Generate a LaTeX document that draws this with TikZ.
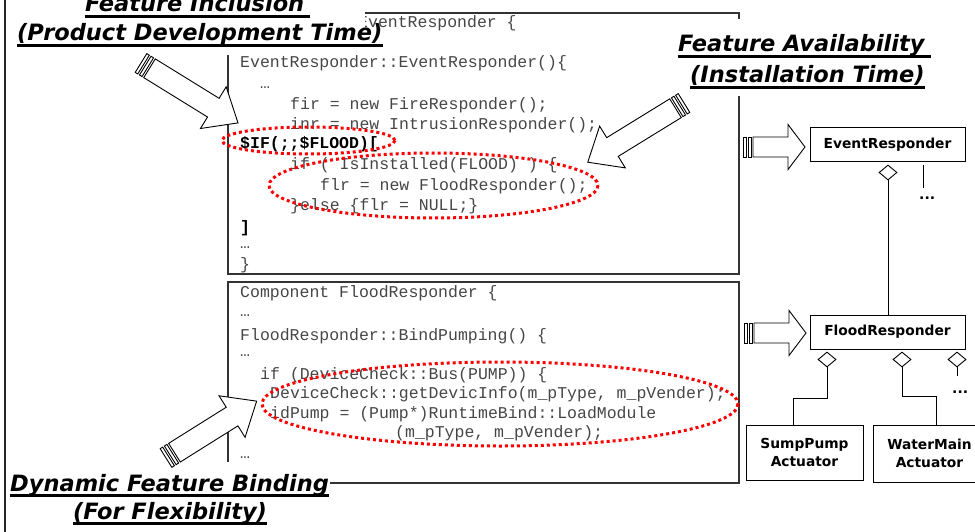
\documentclass[tikz,border=0pt]{standalone}
\usepackage{fontspec}
\usepackage{tikz}
\usetikzlibrary{shapes.geometric,calc}
\newfontfamily\codefont{Liberation Mono}
\newfontfamily\sansfont{DejaVu Sans}
\usepackage{xcolor}
\definecolor{codegray}{RGB}{70,70,70}
\definecolor{flagred}{RGB}{255,0,0}

\tikzset{
  codebox/.style={draw=black!80, line width=1.3pt},
  codeline/.style={anchor=base west, inner sep=0pt, text=codegray, font=\codefont\fontsize{16.5}{20}\selectfont},
  codebold/.style={codeline, text=black, font=\codefont\bfseries\fontsize{16.5}{20}\selectfont},
  flagring/.style={flagred, line width=3pt, dash pattern=on 3pt off 3pt},
  titletext/.style={anchor=base west, inner sep=0pt, font=\sansfont\bfseries\itshape\fontsize{22.5}{27}\selectfont},
  titlerule/.style={line width=3pt},
  umlbox/.style={draw, line width=1pt, fill=white, inner sep=0pt, align=center, minimum height=34pt, font=\sansfont\bfseries\fontsize{13.8}{18}\selectfont},
  aggdiamond/.style={draw, shape=diamond, fill=white, line width=0.9pt, minimum width=18pt, minimum height=15pt, inner sep=0pt},
  umlline/.style={line width=1pt},
  moredots/.style={anchor=base west, inner sep=0pt, font=\sansfont\bfseries\fontsize{14}{16}\selectfont},
  blockarrow/.style={draw=black, fill=white, line width=0.9pt, line join=miter}
}

\begin{document}
\begin{tikzpicture}[x=1pt,y=-1pt]
  \useasboundingbox (0,0) rectangle (975,532);
  \clip (0,0) rectangle (975,532);

  % --- code boxes ---
  \draw[codebox] (228,13) rectangle (739,274);
  \draw[codebox] (228,282) rectangle (739,483);

  % --- EventResponder code ---
  \node[codeline] (ev1) at (259,28) {Component EventResponder \{};
  \node[codeline] (ev2) at (240,68) {EventResponder::EventResponder()\{};
  \node[codeline] (ev3) at (260,89) {…};
  \node[codeline] (ev4) at (290,110) {fir = new FireResponder();};
  \node[codeline] (ev5) at (290,130) {inr = new IntrusionResponder();};
  \node[codebold] (ev6) at (240,149) {\$IF(;;\$FLOOD)[};
  \node[codeline] (ev7) at (290,170) {if ( IsInstalled(FLOOD) ) \{};
  \node[codeline] (ev8) at (320,190) {flr = new FloodResponder();};
  \node[codeline] (ev9) at (290,211) {\}else \{flr = NULL;\}};
  \node[codebold] (ev10) at (240,232) {]};
  \node[codeline] (ev11) at (240,248) {…};
  \node[codeline] (ev12) at (240,269) {\}};

  % --- FloodResponder code ---
  \node[codeline] (fl1) at (240,297) {Component FloodResponder \{};
  \node[codeline] (fl2) at (240,316) {…};
  \node[codeline] (fl3) at (240,340) {FloodResponder::BindPumping() \{};
  \node[codeline] (fl4) at (240,356) {…};
  \node[codeline] (fl5) at (260,379) {if (DeviceCheck::Bus(PUMP)) \{};
  \node[codeline] (fl6) at (270,398) {DeviceCheck::getDevicInfo(m\_pType, m\_pVender);};
  \node[codeline] (fl7) at (270,418) {idPump = (Pump*)RuntimeBind::LoadModule};
  \node[codeline] (fl8) at (395,437) {(m\_pType, m\_pVender);};
  \node[codeline] (fl9) at (240,458) {…};

  % --- red dotted rings ---
  \draw[flagring] (308.5,140.5) ellipse [x radius=86.5, y radius=13.5];
  \draw[flagring] (433.5,185.5) ellipse [x radius=164.5, y radius=32.5];
  \draw[flagring] (500,404) ellipse [x radius=238, y radius=42];

  % --- title backgrounds ---
  \fill[white] (8,0) rectangle (365,55);
  \fill[white] (672,19) rectangle (932,96);
  \fill[white] (8,462) rectangle (330,532);

  % --- titles ---
  \node[titletext] (incl1) at (85,12) {Feature Inclusion};
  \node[titletext] (incl2) at (17,41) {(Product Development Time)};
  \node[titletext] (avail1) at (678,52) {Feature Availability};
  \node[titletext] (avail2) at (690,83) {(Installation Time)};
  \node[titletext] (bind1) at (10,491) {Dynamic Feature Binding};
  \node[titletext] (bind2) at (73,519) {(For Flexibility)};
  \draw[titlerule] ([yshift=-4.5pt]incl1.base west) -- ([xshift=6pt,yshift=-4.5pt]incl1.base east);
  \draw[titlerule] ([yshift=-4.5pt]incl2.base west) -- ([yshift=-4.5pt]incl2.base east);
  \draw[titlerule] ([yshift=-4.5pt]avail1.base west) -- ([xshift=6pt,yshift=-4.5pt]avail1.base east);
  \draw[titlerule] ([yshift=-4.5pt]avail2.base west) -- ([yshift=-4.5pt]avail2.base east);
  \draw[titlerule] ([yshift=-4.5pt]bind1.base west) -- ([yshift=-4.5pt]bind1.base east);
  \draw[titlerule] ([yshift=-4.5pt]bind2.base west) -- ([yshift=-4.5pt]bind2.base east);

  % --- hollow block arrows: tail x/y, angle, length, head length, head half width, shaft half width ---
  \foreach \tx/\ty/\ang/\len/\hl/\hw/\sw in {
    141/63/-31.7/114/29/24.5/11,
    684/103/-148.4/113/29/24.5/11,
    166/458/32.1/107/29/24.5/11,
    743/147/0/62/17/22.5/10,
    744/333/0/62/17/22.5/10
  }{
    \pgfmathsetmacro{\hb}{\len-\hl}
    \begin{scope}[shift={(\tx,\ty)},rotate=\ang]
      \filldraw[blockarrow] (0,-\sw) rectangle (3,\sw);
      \filldraw[blockarrow] (5,-\sw) rectangle (8,\sw);
      \filldraw[blockarrow] (10,-\sw) -- (\hb,-\sw) -- (\hb,-\hw) -- (\len,0)
        -- (\hb,\hw) -- (\hb,\sw) -- (10,\sw) -- cycle;
    \end{scope}
  }

  % --- class diagram ---
  \node[umlbox, minimum width=155pt] (event) at (887.5,145) {EventResponder};
  \node[umlbox, minimum width=155pt] (flood) at (887.5,332) {FloodResponder};
  \node[umlbox, minimum width=117pt, minimum height=55pt] (sump) at (804.5,452.5) {SumpPump\\Actuator};
  \node[umlbox, minimum width=113pt, minimum height=57pt] (water) at (929.5,453.5) {WaterMain\\Actuator};

  \node[aggdiamond] (evagg) at (888,172.5) {};
  \node[aggdiamond] (fagg1) at (827,359.5) {};
  \node[aggdiamond] (fagg2) at (902,359.5) {};
  \node[aggdiamond] (fagg3) at (957,359.5) {};

  \draw[umlline] (evagg.south) -- (evagg.south |- flood.north);
  \draw[umlline] (fagg1.south) -- ++(0,31) -| ([xshift=-11.5pt]sump.north);
  \draw[umlline] (fagg2.south) -- ++(0,29) -| ([xshift=6.5pt]water.north);

  % more members
  \coordinate (evstub) at (923,165);
  \coordinate (evstubend) at (923,188);
  \draw[umlline] (evstub) -- (evstubend);
  \node[moredots] (evdots) at (919,200) {...};
  \coordinate (fstubend) at (957,376);
  \draw[umlline] (fagg3.south) -- (fstubend);
  \node[moredots] (fdots) at (952,393) {...};

  % --- left border ---
  \draw[line width=2pt, black!85] (5,0) -- (5,532);

\end{tikzpicture}
\end{document}
